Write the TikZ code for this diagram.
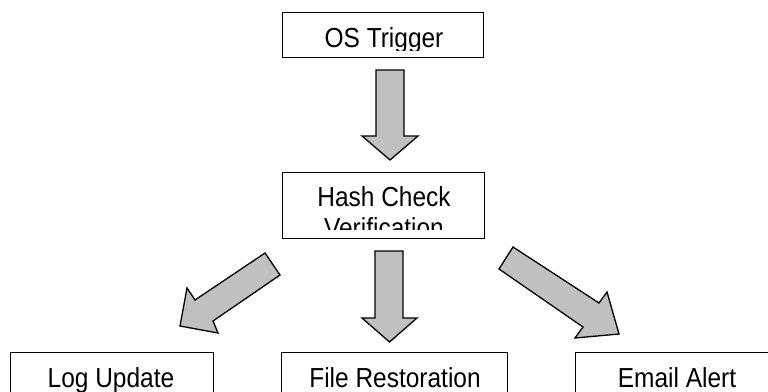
\documentclass[tikz,border=0pt]{standalone}
\usepackage{fontspec}
\setmainfont{Liberation Sans}[FakeStretch=0.89]
\definecolor{arrowgray}{HTML}{C0C0C0}
\begin{document}
\begin{tikzpicture}[x=1pt,y=-1pt,
  box/.style={draw, line width=1.3pt, fill=white, inner sep=0pt, anchor=north west},
  barrow/.style={draw, line width=1.3pt, fill=arrowgray, line join=miter},
  lbl/.style={font=\fontsize{27.5}{31}\selectfont, anchor=base, inner sep=0pt}]
\useasboundingbox (0,0) rectangle (768,391);
\clip (0,0) rectangle (768,391);

% boxes
\node[box, minimum width=201pt, minimum height=45pt] (os) at (282,12) {};
\node[box, minimum width=202pt, minimum height=66pt] (hash) at (282,172) {};
\node[box, minimum width=203pt, minimum height=70pt] (log) at (10,352) {};
\node[box, minimum width=226pt, minimum height=70pt] (file) at (281,352) {};
\node[box, minimum width=204pt, minimum height=70pt] (mail) at (575,352) {};

% labels (clipped like the original)
\begin{scope}
  \clip (282,12) rectangle (483,50);
  \node[lbl] (ostxt) at (384,47) {OS Trigger};
\end{scope}
\begin{scope}
  \clip (282,172) rectangle (484,229);
  \node[lbl] (hashtxt1) at (384,206) {Hash Check};
  \node[lbl] (hashtxt2) at (384,237) {Verification};
\end{scope}
\node[lbl] (logtxt) at (111,387) {Log Update};
\node[lbl] (filetxt) at (395,387) {File Restoration};
\node[lbl] (mailtxt) at (677,387) {Email Alert};

% block arrows
\draw[barrow] (376,70)--(404,70)--(404,136)--(418,136)--(390,160)--(362,136)--(376,136)--cycle;
\draw[barrow] (375,251)--(403,251)--(403,318)--(417,318)--(389.5,342)--(362,318)--(375,318)--cycle;
\draw[barrow] (265,253)--(195,300)--(187,288)--(180,326)--(218,333)--(213,321)--(280,275)--cycle;
\draw[barrow] (513,247)--(599,303)--(607,292)--(619,334)--(575,338)--(583,327)--(499,269)--cycle;
\end{tikzpicture}
\end{document}
